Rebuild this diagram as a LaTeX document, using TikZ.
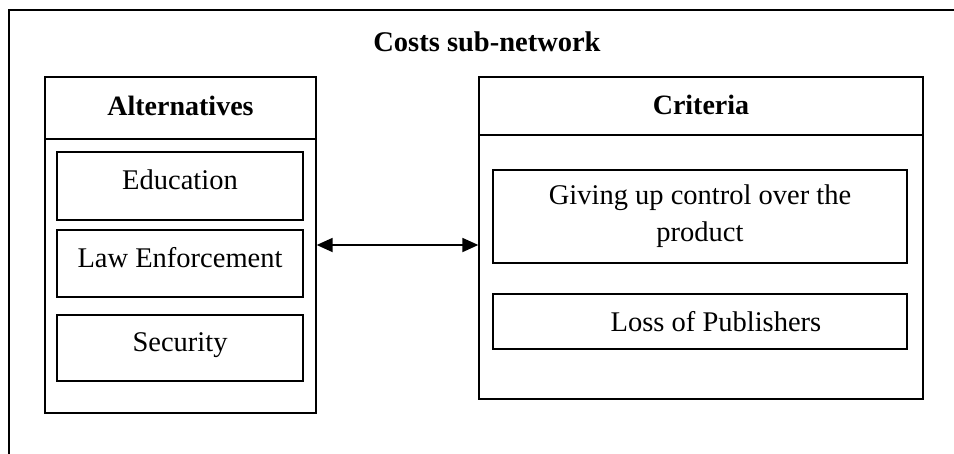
\documentclass[tikz,border=0pt]{standalone}
\usepackage{fontspec}
\setmainfont{Liberation Serif}
\usetikzlibrary{arrows.meta}

\tikzset{
  panel/.style={draw, line width=1.3pt, inner sep=0pt},
  item/.style={draw, line width=1.3pt, inner sep=0pt, align=center,
    font=\fontsize{28.5}{37}\selectfont},
  lifted/.style={text depth=12pt},
  head/.style={font=\bfseries\fontsize{28}{32}\selectfont},
  link/.style={{Triangle[length=16pt,width=14pt]}-{Triangle[length=16pt,width=14pt]}, line width=1.8pt}
}

\begin{document}
\begin{tikzpicture}[x=1pt,y=-1pt]
    \useasboundingbox (0,0) rectangle (954,453);
    \clip (0,0) rectangle (954,453);
    \draw[line width=1.3pt] (9,10) rectangle (975,475);
    \node[head, font=\bfseries\fontsize{28.5}{34}\selectfont] (title) at (487,42) {Costs sub-network};

    \node[panel, minimum width=271pt, minimum height=336pt] (alt) at (180.5,245) {};
    \node[head] (althead) at (180.5,106) {Alternatives};
    \draw[line width=1.3pt] (alt.west |- 0,139) -- (alt.east |- 0,139);
    \node[item, lifted, minimum width=246pt, minimum height=68pt] (edu) at (180,186) {Education};
    \node[item, lifted, minimum width=246pt, minimum height=67pt] (law) at (180,263.5) {Law Enforcement};
    \node[item, lifted, minimum width=246pt, minimum height=66pt] (sec) at (180,348) {Security};

    \node[panel, minimum width=444pt, minimum height=322pt] (crit) at (701,238) {};
    \node[head] (crithead) at (701,105) {Criteria};
    \draw[line width=1.3pt] (crit.west |- 0,135) -- (crit.east |- 0,135);
    \node[item, minimum width=414pt, minimum height=93pt] (give) at (700,216.5) {Giving up control over the\\product};
    \node[item, minimum width=414pt, minimum height=55pt] (loss) at (700,321.5) {\hspace*{32pt}Loss of Publishers};

    \draw[link] (alt.east) -- (alt.east -| crit.west);
\end{tikzpicture}
\end{document}
